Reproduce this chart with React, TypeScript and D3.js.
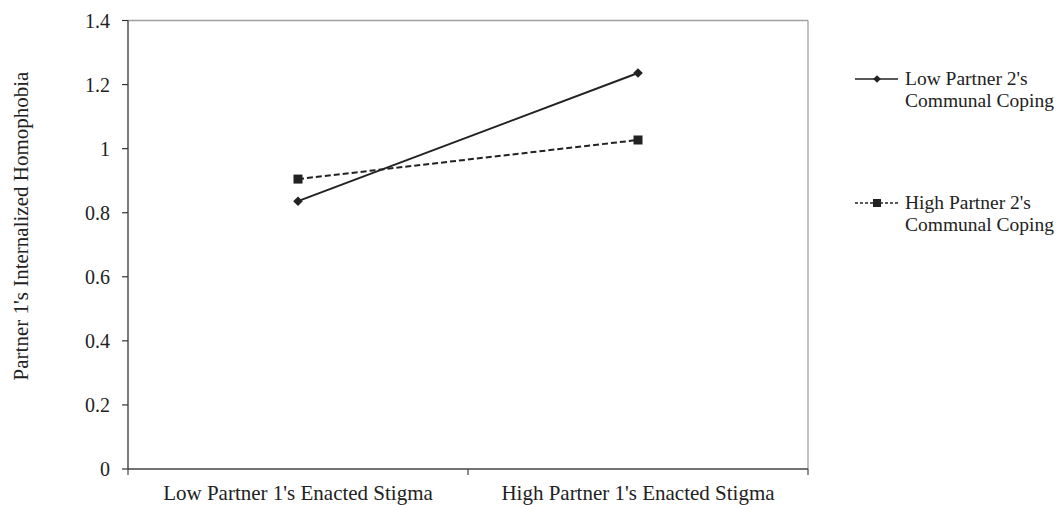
import React from "react";
import * as d3 from "d3";

const categories = ["Low Partner 1's Enacted Stigma", "High Partner 1's Enacted Stigma"];
const lowCoping = [0.836, 1.236];
const highCoping = [0.905, 1.027];
const yTicks = [0, 0.2, 0.4, 0.6, 0.8, 1, 1.2, 1.4];
const seriesNames = [["Low Partner 2's", "Communal Coping"], ["High Partner 2's", "Communal Coping"]];

const W = 1056, H = 505;
const m = { left: 128, right: 808, top: 20.5, bottom: 469 };
const font = "Liberation Serif, Times New Roman, serif";

export default function App() {
  const x = d3.scaleBand<string>().domain(categories).range([m.left, m.right]);
  const y = d3.scaleLinear().domain([0, 1.4]).range([m.bottom, m.top]);
  const cx = (i: number) => x(categories[i])! + x.bandwidth() / 2;
  const line = d3.line<number>().x((_, i) => cx(i)).y(d => y(d));
  const diamond = (px: number, py: number, r: number) => `M${px},${py - r}L${px + r},${py}L${px},${py + r}L${px - r},${py}Z`;
  const xTickPos = [m.left, ...categories.map(c => x(c)! + x.bandwidth())];
  return (
    <svg width={W} height={H} style={{ position: "absolute", left: 0, top: 0, fontFamily: font }}>
      <rect width={W} height={H} fill="#fff" />
      {/* frame */}
      <line x1={m.left} x2={m.right} y1={m.top} y2={m.top} stroke="#a0a0a0" strokeWidth={1.3} />
      <line x1={m.right} x2={m.right} y1={m.top} y2={m.bottom} stroke="#a0a0a0" strokeWidth={1.3} />
      <line x1={m.left} x2={m.right} y1={m.bottom} y2={m.bottom} stroke="#444" strokeWidth={1.3} />
      <line x1={m.left} x2={m.left} y1={m.top} y2={m.bottom} stroke="#333" strokeWidth={1.3} />
      {yTicks.map(t => (
        <g key={t}>
          <line x1={m.left - 6} x2={m.left} y1={y(t)} y2={y(t)} stroke="#333" strokeWidth={1.2} />
          <text x={110} y={y(t)} dy="0.35em" textAnchor="end" fontSize={20} fill="#222">{String(t)}</text>
        </g>
      ))}
      {xTickPos.map((p, i) => (
        <line key={i} x1={p} x2={p} y1={m.bottom} y2={m.bottom + 6} stroke="#444" strokeWidth={1.2} />
      ))}
      {categories.map((c, i) => (
        <text key={c} x={cx(i)} y={500} textAnchor="middle" fontSize={21} fill="#222">{c}</text>
      ))}
      <text transform={`translate(28,226) rotate(-90)`} textAnchor="middle" fontSize={21} fill="#222">
        Partner 1's Internalized Homophobia
      </text>
      {/* series */}
      <path d={line(lowCoping)!} fill="none" stroke="#222" strokeWidth={2} />
      <path d={line(highCoping)!} fill="none" stroke="#222" strokeWidth={2} strokeDasharray="6,3" />
      {lowCoping.map((v, i) => (
        <path key={i} d={diamond(cx(i), y(v), 4.8)} fill="#222" />
      ))}
      {highCoping.map((v, i) => (
        <rect key={i} x={cx(i) - 4.5} y={y(v) - 4.5} width={9} height={9} fill="#222" />
      ))}
      {/* legend */}
      <g>
        <line x1={855} x2={898} y1={79} y2={79} stroke="#222" strokeWidth={1.6} />
        <path d={diamond(877, 79, 3.8)} fill="#222" />
        <text x={905} y={85} fontSize={19.5} fill="#222">{seriesNames[0][0]}</text>
        <text x={905} y={107} fontSize={19.5} fill="#222">{seriesNames[0][1]}</text>
        <line x1={855} x2={898} y1={203} y2={203} stroke="#222" strokeWidth={1.6} strokeDasharray="3,2" />
        <rect x={873} y={199} width={8} height={8} fill="#222" />
        <text x={905} y={209} fontSize={19.5} fill="#222">{seriesNames[1][0]}</text>
        <text x={905} y={231} fontSize={19.5} fill="#222">{seriesNames[1][1]}</text>
      </g>
    </svg>
  );
}
